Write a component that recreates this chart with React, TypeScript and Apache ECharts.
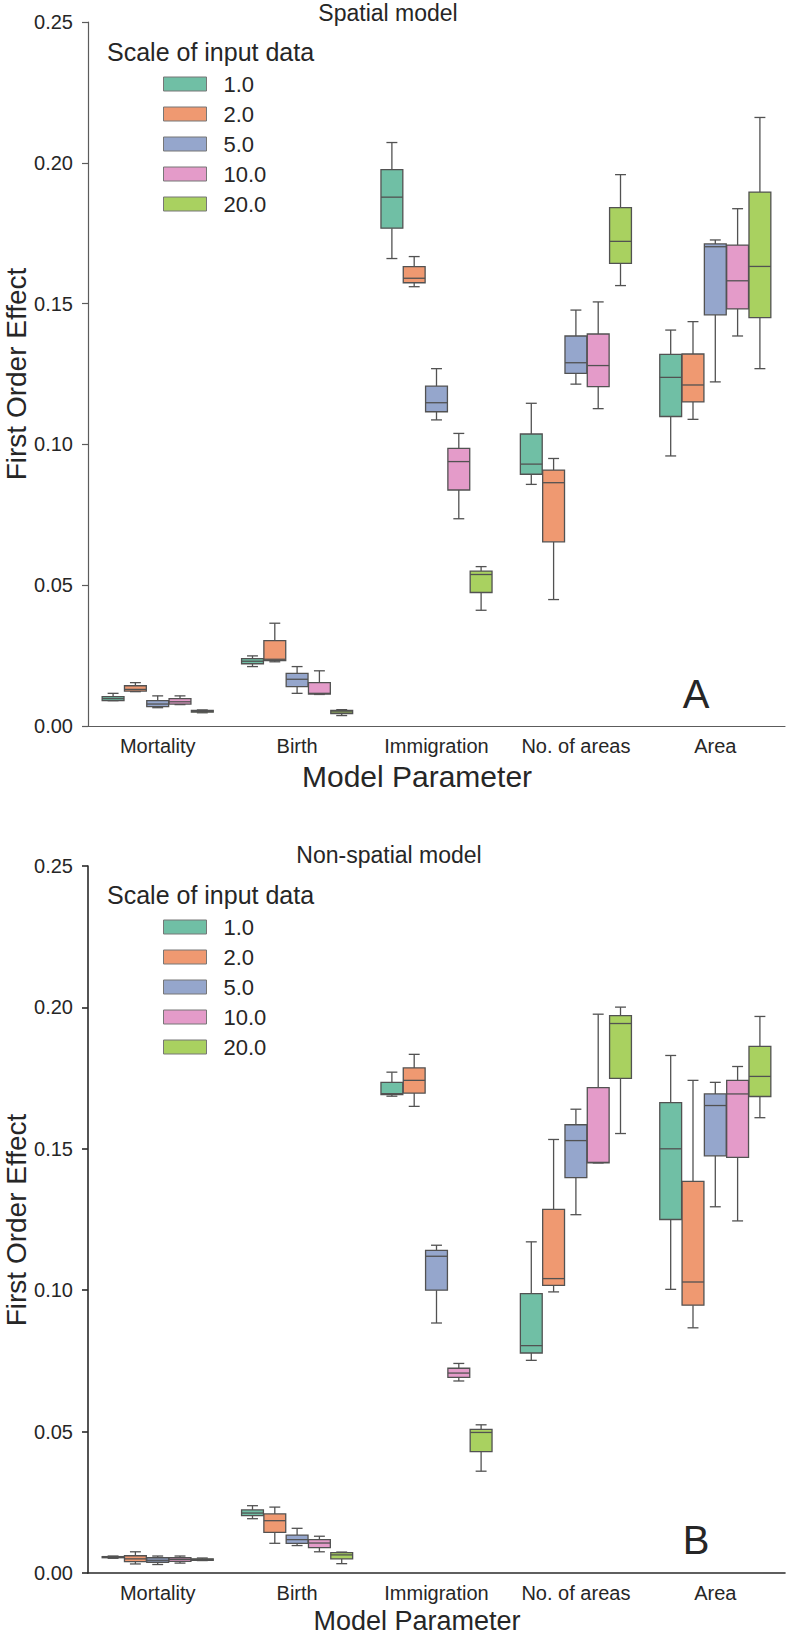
import React, { useEffect, useRef } from "react";
import * as echarts from "echarts";

const categories = ["Mortality", "Birth", "Immigration", "No. of areas", "Area"];
const scales = ["1.0", "2.0", "5.0", "10.0", "20.0"];
const colors = ["#70bfa5", "#ef9971", "#95a6cc", "#e49bc9", "#a9d160"];
const edgeColor = "#525252";

// each entry: [min, q1, median, q3, max] per category (Mortality, Birth, Immigration, No. of areas, Area)
const spatial_1 = [
  [0.0090, 0.0090, 0.0097, 0.0104, 0.0116],
  [0.0211, 0.0221, 0.0230, 0.0239, 0.0249],
  [0.1660, 0.1768, 0.1878, 0.1976, 0.2072],
  [0.0858, 0.0894, 0.0930, 0.1037, 0.1146],
  [0.0959, 0.1099, 0.1238, 0.1320, 0.1406],
];
const spatial_2 = [
  [0.0122, 0.0124, 0.0130, 0.0143, 0.0154],
  [0.0228, 0.0232, 0.0237, 0.0303, 0.0365],
  [0.1560, 0.1574, 0.1590, 0.1631, 0.1667],
  [0.0449, 0.0654, 0.0864, 0.0909, 0.0950],
  [0.1089, 0.1151, 0.1211, 0.1321, 0.1436],
];
const spatial_5 = [
  [0.0065, 0.0069, 0.0078, 0.0090, 0.0107],
  [0.0116, 0.0140, 0.0166, 0.0187, 0.0211],
  [0.1087, 0.1116, 0.1148, 0.1207, 0.1269],
  [0.1214, 0.1252, 0.1290, 0.1385, 0.1477],
  [0.1222, 0.1460, 0.1702, 0.1712, 0.1726],
];
const spatial_10 = [
  [0.0076, 0.0078, 0.0086, 0.0097, 0.0107],
  [0.0112, 0.0113, 0.0116, 0.0154, 0.0196],
  [0.0736, 0.0838, 0.0939, 0.0986, 0.1039],
  [0.1127, 0.1205, 0.1280, 0.1392, 0.1506],
  [0.1385, 0.1481, 0.1581, 0.1708, 0.1837],
];
const spatial_20 = [
  [0.0047, 0.0049, 0.0052, 0.0055, 0.0057],
  [0.0037, 0.0044, 0.0050, 0.0055, 0.0058],
  [0.0411, 0.0474, 0.0538, 0.0550, 0.0566],
  [0.1564, 0.1643, 0.1721, 0.1841, 0.1958],
  [0.1269, 0.1450, 0.1632, 0.1896, 0.2161],
];

const nonspatial_1 = [
  [0.0052, 0.0054, 0.0056, 0.0058, 0.0060],
  [0.0192, 0.0203, 0.0212, 0.0223, 0.0238],
  [0.1686, 0.1692, 0.1695, 0.1735, 0.1771],
  [0.0752, 0.0778, 0.0804, 0.0988, 0.1171],
  [0.1003, 0.1250, 0.1500, 0.1663, 0.1830],
];
const nonspatial_2 = [
  [0.0032, 0.0040, 0.0050, 0.0061, 0.0075],
  [0.0105, 0.0144, 0.0185, 0.0209, 0.0233],
  [0.1650, 0.1697, 0.1742, 0.1786, 0.1834],
  [0.0994, 0.1017, 0.1041, 0.1286, 0.1533],
  [0.0867, 0.0947, 0.1029, 0.1385, 0.1742],
];
const nonspatial_5 = [
  [0.0030, 0.0038, 0.0045, 0.0054, 0.0060],
  [0.0097, 0.0105, 0.0118, 0.0134, 0.0158],
  [0.0884, 0.1000, 0.1120, 0.1141, 0.1159],
  [0.1267, 0.1398, 0.1529, 0.1585, 0.1640],
  [0.1295, 0.1475, 0.1653, 0.1694, 0.1735],
];
const nonspatial_10 = [
  [0.0035, 0.0041, 0.0048, 0.0054, 0.0060],
  [0.0075, 0.0090, 0.0106, 0.0118, 0.0130],
  [0.0679, 0.0692, 0.0707, 0.0724, 0.0741],
  [0.1450, 0.1450, 0.1452, 0.1716, 0.1976],
  [0.1245, 0.1470, 0.1694, 0.1742, 0.1791],
];
const nonspatial_20 = [
  [0.0044, 0.0045, 0.0048, 0.0050, 0.0053],
  [0.0033, 0.0050, 0.0064, 0.0072, 0.0074],
  [0.0360, 0.0429, 0.0497, 0.0508, 0.0524],
  [0.1554, 0.1749, 0.1943, 0.1971, 0.2001],
  [0.1610, 0.1685, 0.1756, 0.1862, 0.1968],
];

const spatialSets = [spatial_1, spatial_2, spatial_5, spatial_10, spatial_20];
const nonspatialSets = [nonspatial_1, nonspatial_2, nonspatial_5, nonspatial_10, nonspatial_20];

const FONT = "'Liberation Sans', Arial, Helvetica, sans-serif";
const TEXT = "#262626";

function makeBoxSeries(sets: number[][][], gridIndex: number) {
  const n = sets.length;
  return sets.map((set, h) => ({
    type: "custom",
    name: scales[h],
    xAxisIndex: gridIndex,
    yAxisIndex: gridIndex,
    itemStyle: { color: colors[h] },
    encode: { x: 0, y: [1, 2, 3, 4, 5] },
    data: set.map((s, ci) => [ci, s[0], s[1], s[2], s[3], s[4]]),
    renderItem: (params: any, api: any) => {
      const ci = api.value(0);
      const band = api.size([1, 0])[0];
      const slot = (band * 0.8) / n;
      const w = slot * 0.98;
      const cx = api.coord([ci, 0])[0] + (h - (n - 1) / 2) * slot;
      const yMin = api.coord([ci, api.value(1)])[1];
      const yQ1 = api.coord([ci, api.value(2)])[1];
      const yMed = api.coord([ci, api.value(3)])[1];
      const yQ3 = api.coord([ci, api.value(4)])[1];
      const yMax = api.coord([ci, api.value(5)])[1];
      const ls = { stroke: edgeColor, lineWidth: 1.3 };
      return {
        type: "group",
        children: [
          { type: "line", shape: { x1: cx, y1: yQ3, x2: cx, y2: yMax }, style: ls },
          { type: "line", shape: { x1: cx, y1: yQ1, x2: cx, y2: yMin }, style: ls },
          { type: "line", shape: { x1: cx - w / 4, y1: yMax, x2: cx + w / 4, y2: yMax }, style: ls },
          { type: "line", shape: { x1: cx - w / 4, y1: yMin, x2: cx + w / 4, y2: yMin }, style: ls },
          {
            type: "rect",
            shape: { x: cx - w / 2, y: yQ3, width: w, height: Math.max(yQ1 - yQ3, 1) },
            style: { fill: api.visual("color"), stroke: edgeColor, lineWidth: 1.3 },
          },
          { type: "line", shape: { x1: cx - w / 2, y1: yMed, x2: cx + w / 2, y2: yMed }, style: ls },
        ],
      };
    },
  }));
}

function xAxisFor(gridIndex: number, lineColor: string, lineWidth: number) {
  return {
    type: "category",
    gridIndex,
    data: categories,
    boundaryGap: true,
    axisLine: { lineStyle: { color: lineColor, width: lineWidth } },
    axisTick: { alignWithLabel: true, length: 7, lineStyle: { color: lineColor, width: lineWidth } },
    axisLabel: { interval: 0, fontSize: 20, color: TEXT, fontFamily: FONT, margin: 10 },
    splitLine: { show: false },
  };
}

function yAxisFor(gridIndex: number, lineColor: string, lineWidth: number) {
  return {
    type: "value",
    gridIndex,
    min: 0,
    max: 0.25,
    interval: 0.05,
    axisLine: { show: true, lineStyle: { color: lineColor, width: lineWidth } },
    axisTick: { show: true, length: 6, lineStyle: { color: lineColor, width: lineWidth } },
    axisLabel: {
      fontSize: 20,
      color: TEXT,
      fontFamily: FONT,
      margin: 15,
      formatter: (v: number) => v.toFixed(2),
    },
    splitLine: { show: false },
  };
}

function legendFor(top: number) {
  return {
    orient: "vertical",
    left: 163,
    top,
    padding: 0,
    itemWidth: 43,
    itemHeight: 14,
    itemGap: 8,
    icon: "rect",
    selectedMode: false,
    formatter: "{a|{name}}",
    textStyle: {
      color: TEXT,
      fontFamily: FONT,
      fontSize: 22,
      rich: { a: { fontSize: 22, fontFamily: FONT, color: TEXT, padding: [0, 0, 0, 12] } },
    },
    data: scales.map((s, i) => ({
      name: s,
      itemStyle: { color: colors[i], borderColor: "#777", borderWidth: 1 },
    })),
  };
}

function txt(text: string, x: number, y: number, size: number, align = "center", rotation = 0) {
  return {
    type: "text",
    x,
    y,
    rotation,
    style: {
      text,
      fill: TEXT,
      fontSize: size,
      fontFamily: FONT,
      align,
      verticalAlign: "middle",
    },
  };
}

export default function App() {
  const ref = useRef<HTMLDivElement>(null);
  useEffect(() => {
    if (!ref.current) return;
    const chart = echarts.init(ref.current, undefined, { renderer: "svg" });
    const option: any = {
      animation: false,
      backgroundColor: "#ffffff",
      grid: [
        { left: 88, top: 22, width: 697, height: 704 },
        { left: 88, top: 866, width: 697, height: 707 },
      ],
      xAxis: [xAxisFor(0, "#5c5c5c", 1.2), xAxisFor(1, "#2a2a2a", 1.6)],
      yAxis: [yAxisFor(0, "#5c5c5c", 1.2), yAxisFor(1, "#2a2a2a", 1.6)],
      legend: [legendFor(73), legendFor(916)],
      series: [...makeBoxSeries(spatialSets, 0), ...makeBoxSeries(nonspatialSets, 1)],
      graphic: [
        txt("Spatial model", 388, 13, 23),
        txt("Non-spatial model", 389, 855, 23),
        txt("Scale of input data", 107, 52, 25, "left"),
        txt("Scale of input data", 107, 895, 25, "left"),
        txt("A", 696, 694, 40),
        txt("B", 696, 1540, 40),
        txt("First Order Effect", 16, 374, 28, "center", Math.PI / 2),
        txt("First Order Effect", 16, 1220, 28, "center", Math.PI / 2),
        txt("Model Parameter", 417, 776, 30),
        txt("Model Parameter", 417, 1621, 27),
      ],
    };
    chart.setOption(option);
    return () => chart.dispose();
  }, []);
  return (
    <div
      ref={ref}
      style={{ position: "absolute", left: 0, top: 0, width: 787, height: 1635, background: "#fff" }}
    />
  );
}
